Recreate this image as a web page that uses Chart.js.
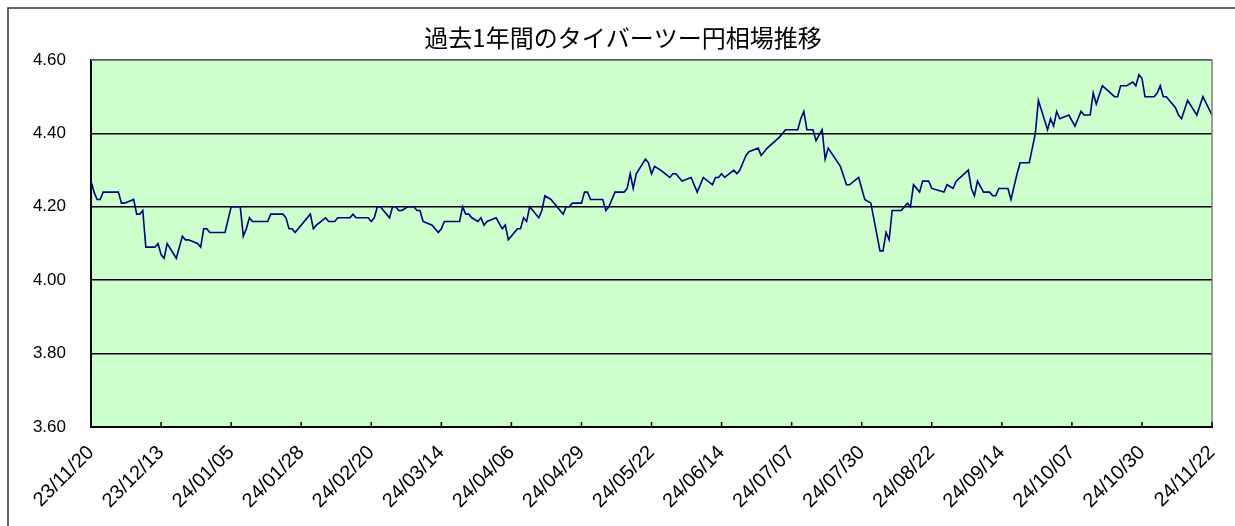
<!DOCTYPE html>
<html>
<head>
<meta charset="utf-8">
<script src="https://cdn.jsdelivr.net/npm/chart.js@4.4.1/dist/chart.umd.min.js"></script>
<style>
html, body { margin: 0; padding: 0; background: #fff; }
#wrap { width: 1235px; height: 526px; }
</style>
</head>
<body>
<div id="wrap"><canvas id="rateChart" width="1235" height="526"></canvas></div>
<script>
// 日付は 23/11/20 からの経過日数、値は 1バーツあたりの円
const days = [
  0, 1, 2, 3, 4, 9, 10, 11, 14, 15, 16, 17, 18, 21, 22, 23, 24, 25, 28, 30,
  31, 32, 35, 36, 37, 38, 39, 44, 46, 49, 50, 51, 52, 53, 58, 59, 63, 64, 65, 66,
  67, 72, 73, 74, 77, 78, 80, 81, 85, 86, 87, 91, 92, 93, 94, 95, 98, 99, 100, 101,
  102, 104, 106, 107, 108, 109, 112, 114, 115, 116, 121, 122, 123, 124, 125, 127, 128, 129, 130, 133,
  135, 136, 137, 140, 141, 142, 143, 144, 147, 148, 149, 151, 155, 156, 157, 158, 161, 162, 163, 164,
  168, 169, 170, 172, 175, 176, 177, 178, 179, 182, 183, 184, 185, 187, 190, 191, 192, 194, 197, 199,
  201, 204, 205, 206, 207, 208, 211, 212, 213, 214, 215, 216, 219, 220, 222, 226, 228, 232, 233, 234,
  235, 237, 238, 240, 241, 242, 246, 248, 249, 252, 253, 254, 256, 259, 260, 261, 262, 263, 266, 268,
  269, 270, 272, 273, 275, 276, 280, 281, 283, 284, 288, 289, 290, 291, 293, 295, 296, 297, 298, 301,
  302, 304, 305, 308, 309, 310, 311, 314, 315, 316, 317, 318, 321, 323, 324, 325, 326, 328, 329, 330,
  332, 336, 337, 338, 340, 342, 343, 344, 345, 346, 349, 350, 351, 352, 353, 356, 357, 358, 360, 363,
  365, 368
];
const rates = [
  4.27, 4.24, 4.22, 4.22, 4.24, 4.24, 4.21, 4.21, 4.22, 4.18, 4.18, 4.19, 4.09, 4.09, 4.10, 4.07, 4.06, 4.10, 4.06, 4.12,
  4.11, 4.11, 4.10, 4.09, 4.14, 4.14, 4.13, 4.13, 4.20, 4.20, 4.12, 4.14, 4.17, 4.16, 4.16, 4.18, 4.18, 4.17, 4.14, 4.14,
  4.13, 4.18, 4.14, 4.15, 4.17, 4.16, 4.16, 4.17, 4.17, 4.18, 4.17, 4.17, 4.16, 4.17, 4.20, 4.20, 4.17, 4.20, 4.20, 4.19,
  4.19, 4.20, 4.20, 4.19, 4.19, 4.16, 4.15, 4.13, 4.14, 4.16, 4.16, 4.20, 4.18, 4.18, 4.17, 4.16, 4.17, 4.15, 4.16, 4.17,
  4.14, 4.15, 4.11, 4.14, 4.14, 4.17, 4.16, 4.20, 4.17, 4.19, 4.23, 4.22, 4.18, 4.20, 4.20, 4.21, 4.21, 4.24, 4.24, 4.22,
  4.22, 4.19, 4.20, 4.24, 4.24, 4.25, 4.29, 4.25, 4.29, 4.33, 4.32, 4.29, 4.31, 4.30, 4.28, 4.29, 4.29, 4.27, 4.28, 4.24,
  4.28, 4.26, 4.28, 4.28, 4.29, 4.28, 4.30, 4.29, 4.30, 4.32, 4.34, 4.35, 4.36, 4.34, 4.36, 4.39, 4.41, 4.41, 4.44, 4.46,
  4.41, 4.41, 4.38, 4.41, 4.33, 4.36, 4.31, 4.26, 4.26, 4.28, 4.25, 4.22, 4.21, 4.08, 4.08, 4.13, 4.11, 4.19, 4.19, 4.21,
  4.20, 4.26, 4.24, 4.27, 4.27, 4.25, 4.24, 4.26, 4.25, 4.27, 4.30, 4.25, 4.23, 4.27, 4.24, 4.24, 4.23, 4.23, 4.25, 4.25,
  4.22, 4.29, 4.32, 4.32, 4.36, 4.40, 4.49, 4.41, 4.44, 4.42, 4.46, 4.44, 4.45, 4.42, 4.44, 4.46, 4.45, 4.45, 4.51, 4.48,
  4.53, 4.50, 4.50, 4.53, 4.53, 4.54, 4.53, 4.56, 4.55, 4.50, 4.50, 4.51, 4.53, 4.50, 4.50, 4.47, 4.45, 4.44, 4.49, 4.45,
  4.50, 4.45
];
const startDate = Date.UTC(2023, 10, 20);
const tickStep = 23;   // 目盛りは23日ごと

function dayLabel(offset) {
  const d = new Date(startDate + offset * 86400000);
  const yy = String(d.getUTCFullYear()).slice(2);
  const mm = String(d.getUTCMonth() + 1).padStart(2, '0');
  const dd = String(d.getUTCDate()).padStart(2, '0');
  return `${yy}/${mm}/${dd}`;
}

// 背景色・外枠・内向きの目盛り線
const plotFrame = {
  id: 'plotFrame',
  beforeDraw(chart) {
    const { ctx, chartArea: a } = chart;
    ctx.save();
    ctx.fillStyle = '#ccffcc';
    ctx.fillRect(a.left, a.top, a.right - a.left, a.bottom - a.top);
    ctx.strokeStyle = '#333';
    ctx.lineWidth = 1.5;
    ctx.beginPath();
    ctx.moveTo(8, chart.height);
    ctx.lineTo(8, 8);
    ctx.lineTo(chart.width, 8);
    ctx.stroke();
    ctx.restore();
  },
  afterDraw(chart) {
    const { ctx, chartArea: a, scales: { x } } = chart;
    ctx.save();
    ctx.strokeStyle = '#808080';
    ctx.lineWidth = 1.5;
    ctx.beginPath();
    ctx.moveTo(a.left, a.top);
    ctx.lineTo(a.right, a.top);
    ctx.lineTo(a.right, a.bottom);
    ctx.stroke();
    ctx.strokeStyle = '#000';
    ctx.beginPath();
    x.ticks.forEach(t => {
      const px = x.getPixelForValue(t.value);
      ctx.moveTo(px, a.bottom);
      ctx.lineTo(px, a.bottom - 5);
    });
    ctx.stroke();
    ctx.restore();
  }
};

const ctx = document.getElementById('rateChart').getContext('2d');
const fontFamily = "'Liberation Sans', Arial, sans-serif";

new Chart(ctx, {
  type: 'line',
  data: {
    datasets: [{
      data: days.map((d, i) => ({ x: d, y: rates[i] })),
      borderColor: '#000080',
      borderWidth: 1.6,
      pointRadius: 0,
      tension: 0,
      fill: false
    }]
  },
  options: {
    responsive: false,
    animation: false,
    devicePixelRatio: 1,
    layout: { padding: { top: 8, left: 32, right: 21, bottom: 0 } },
    plugins: {
      legend: { display: false },
      tooltip: { enabled: false },
      title: {
        display: true,
        text: '過去1年間のタイバーツー円相場推移',
        color: '#000',
        font: { family: "'Noto Sans CJK JP', sans-serif", size: 24, weight: 'normal' },
        padding: { top: 15, bottom: 8.2 }
      }
    },
    scales: {
      x: {
        type: 'linear',
        min: 0,
        max: 368,
        afterFit: s => { s.height = 99; },
        grid: { display: false },
        border: { display: true, color: '#000', width: 2 },
        ticks: {
          stepSize: tickStep,
          autoSkip: false,
          maxRotation: 45,
          minRotation: 45,
          padding: 6,
          color: '#000',
          font: { family: fontFamily, size: 20 },
          callback: v => dayLabel(v)
        }
      },
      y: {
        min: 3.6,
        max: 4.6,
        afterFit: s => { s.width = 59; },
        grid: { color: '#000', lineWidth: 1.6, drawTicks: false },
        border: { display: true, color: '#000', width: 2 },
        ticks: {
          stepSize: 0.2,
          padding: 25,
          color: '#000',
          font: { family: fontFamily, size: 17 },
          callback: v => v.toFixed(2)
        }
      }
    }
  },
  plugins: [plotFrame]
});
</script>
</body>
</html>
